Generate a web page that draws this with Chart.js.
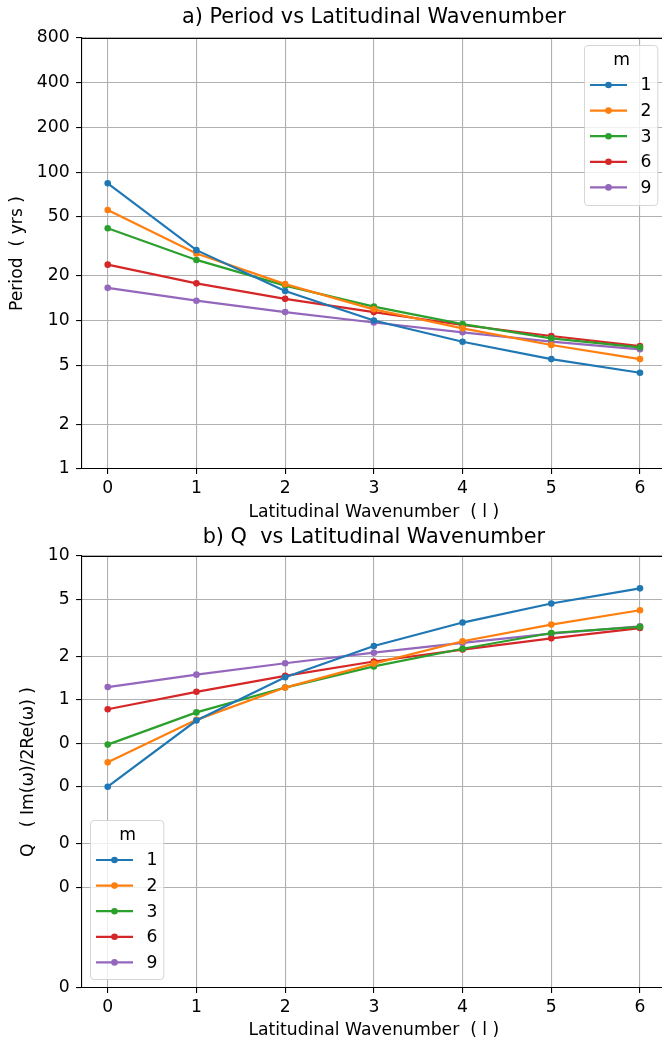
<!DOCTYPE html>
<html><head><meta charset="utf-8">
<script src="https://cdn.jsdelivr.net/npm/chart.js@4/dist/chart.umd.min.js"></script>
<style>
html,body{margin:0;padding:0;background:#fff;overflow:hidden;width:662px;height:1046px;position:relative;}
canvas{display:block;position:absolute;left:0;}
#c1{top:0}
#c2{top:523px}
</style></head><body>
<canvas id="c1" width="680" height="523"></canvas>
<canvas id="c2" width="680" height="523"></canvas>
<script>
// ---- data ----
const wavenumbers = [0, 1, 2, 3, 4, 5, 6];
const mLabels = ['1', '2', '3', '6', '9'];
const seriesColors = ['#1f77b4', '#ff7f0e', '#2ca02c', '#d62728', '#9467bd'];

const periodM1 = [84, 29.8, 15.8, 10.0, 7.2, 5.5, 4.45];
const periodM2 = [55.5, 28.3, 17.6, 11.9, 8.86, 6.84, 5.5];
const periodM3 = [41.8, 25.6, 17.2, 12.4, 9.47, 7.59, 6.6];
const periodM6 = [23.8, 17.8, 14.0, 11.4, 9.33, 7.87, 6.73];
const periodM9 = [16.6, 13.6, 11.4, 9.7, 8.33, 7.2, 6.4];

const qM1 = [0.25, 0.72, 1.44, 2.37, 3.45, 4.68, 5.96];
const qM2 = [0.369, 0.728, 1.22, 1.79, 2.56, 3.34, 4.20];
const qM3 = [0.49, 0.82, 1.22, 1.71, 2.27, 2.92, 3.22];
const qM6 = [0.863, 1.14, 1.47, 1.85, 2.24, 2.68, 3.16];
const qM9 = [1.23, 1.50, 1.80, 2.13, 2.49, 2.89, 3.25];

const xTickValues = [0, 1, 2, 3, 4, 5, 6];
const periodTickValues = [1, 2, 5, 10, 20, 50, 100, 200, 400, 800];
const qTickValues = [0.01, 0.05, 0.1, 0.25, 0.5, 1, 2, 5, 10];

// ---- styling / layout ----
const FONT = '"DejaVu Sans", sans-serif';
const TICK_SIZE = 17.2;
const TITLE_SIZE = 20.8;

const insideLegend = {
  id: 'insideLegend',
  afterDatasetsDraw(chart, args, opts) {
    const ctx = chart.ctx;
    const { x, y, w, h } = opts;
    ctx.save();
    ctx.beginPath();
    ctx.roundRect(x + 0.5, y + 0.5, w, h, 3.5);
    ctx.fillStyle = 'rgba(255,255,255,0.8)';
    ctx.fill();
    ctx.strokeStyle = 'rgba(204,204,204,0.8)';
    ctx.lineWidth = 1;
    ctx.stroke();
    ctx.font = TICK_SIZE + 'px ' + FONT;
    ctx.textBaseline = 'middle';
    ctx.textAlign = 'center';
    ctx.fillStyle = '#000';
    ctx.fillText(opts.title, x + w / 2 + 1, y + 15.5);
    chart.data.datasets.forEach((ds, i) => {
      const yy = y + 40 + i * 25.6;
      ctx.strokeStyle = ds.borderColor;
      ctx.lineWidth = 2.2;
      ctx.beginPath();
      ctx.moveTo(x + 6, yy);
      ctx.lineTo(x + 43, yy);
      ctx.stroke();
      ctx.fillStyle = ds.borderColor;
      ctx.beginPath();
      ctx.arc(x + 24.5, yy, 3.3, 0, 2 * Math.PI);
      ctx.fill();
      ctx.fillStyle = '#000';
      ctx.textAlign = 'left';
      ctx.fillText(ds.label, x + 56.5, yy + 1);
    });
    ctx.restore();
  }
};

const axesTitle = {
  id: 'axesTitle',
  afterDraw(chart, args, opts) {
    const { ctx, chartArea } = chart;
    ctx.save();
    // top spine
    ctx.strokeStyle = '#000';
    ctx.lineWidth = 1.1;
    ctx.beginPath();
    ctx.moveTo(chartArea.left, Math.round(chartArea.top) + 0.5);
    ctx.lineTo(chartArea.right, Math.round(chartArea.top) + 0.5);
    ctx.stroke();
    // title centered over the axes
    ctx.fillStyle = '#000';
    ctx.font = TITLE_SIZE + 'px ' + FONT;
    ctx.textAlign = 'center';
    ctx.textBaseline = 'middle';
    ctx.fillText(opts.text, (chartArea.left + chartArea.right) / 2, opts.y);
    ctx.restore();
  }
};

function makeChart(id, seriesList, cfg) {
  const datasets = seriesList.map((vals, i) => ({
    label: mLabels[i],
    data: wavenumbers.map((x, j) => ({ x: x, y: vals[j] })),
    borderColor: seriesColors[i],
    backgroundColor: seriesColors[i],
    pointBackgroundColor: seriesColors[i],
    pointBorderWidth: 0,
    pointRadius: 3.3,
    borderWidth: 2.2,
    tension: 0,
    fill: false
  }));
  return new Chart(document.getElementById(id), {
    type: 'line',
    data: { datasets: datasets },
    plugins: [insideLegend, axesTitle],
    options: {
      responsive: false,
      animation: false,
      devicePixelRatio: 1,
      layout: { padding: { left: 0, top: cfg.areaTop, right: 13.4, bottom: 0 } },
      plugins: {
        legend: { display: false },
        tooltip: { enabled: false },
        title: { display: false },
        axesTitle: { text: cfg.title, y: cfg.titleY },
        insideLegend: cfg.legend
      },
      scales: {
        x: {
          type: 'linear',
          min: -0.3,
          max: 6.3,
          afterBuildTicks: (s) => { s.ticks = xTickValues.map(v => ({ value: v })); },
          afterFit: (s) => { s.height = cfg.xHeight; },
          ticks: {
            color: '#000',
            padding: 4.4,
            maxRotation: 0,
            autoSkip: false,
            font: { family: FONT, size: TICK_SIZE },
            callback: (v) => String(v)
          },
          grid: { color: '#b0b0b0', lineWidth: 1.1, tickLength: 5, tickColor: '#000', drawTicks: true },
          border: { color: '#000', width: 1.1 },
          title: {
            display: true,
            text: 'Latitudinal Wavenumber  ( l )',
            color: '#000',
            font: { family: FONT, size: TICK_SIZE, lineHeight: 1.2 },
            padding: { top: 0, bottom: cfg.xTitleBottom }
          }
        },
        y: {
          type: 'logarithmic',
          min: cfg.yMin,
          max: cfg.yMax,
          afterBuildTicks: (s) => { s.ticks = cfg.yTicks.map(v => ({ value: v })); },
          afterFit: (s) => { s.width = 81.1; },
          ticks: {
            color: '#000',
            padding: 6.5,
            autoSkip: false,
            font: { family: FONT, size: TICK_SIZE },
            callback: cfg.yFmt
          },
          grid: { color: '#b0b0b0', lineWidth: 1.1, tickLength: 5, tickColor: '#000', drawTicks: true },
          border: { color: '#000', width: 1.1 },
          title: {
            display: true,
            text: cfg.yTitle,
            color: '#000',
            font: { family: FONT, size: TICK_SIZE, lineHeight: 1.2 },
            padding: { top: cfg.yTitleTop, bottom: 0 }
          }
        }
      }
    }
  });
}

makeChart('c1', [periodM1, periodM2, periodM3, periodM6, periodM9], {
  title: 'a) Period vs Latitudinal Wavenumber',
  areaTop: 38,
  titleY: 18,
  yTitle: 'Period  ( yrs )',
  yTitleTop: 7.7,
  yMin: 1, yMax: 800,
  yTicks: periodTickValues,
  yFmt: (v) => String(v),
  xHeight: 54,
  xTitleBottom: 0.6,
  legend: { x: 584, y: 45, w: 73.3, h: 160, title: 'm' }
});

makeChart('c2', [qM1, qM2, qM3, qM6, qM9], {
  title: 'b) Q  vs Latitudinal Wavenumber',
  areaTop: 33,
  titleY: 15,
  yTitle: 'Q   ( Im(ω)/2Re(ω) )',
  yTitleTop: 18.7,
  yMin: 0.01, yMax: 10,
  yTicks: qTickValues,
  yFmt: (v) => String(Math.trunc(v)),
  xHeight: 58,
  xTitleBottom: 5.6,
  legend: { x: 90, y: 297, w: 73.3, h: 159, title: 'm' }
});
</script>
</body></html>
